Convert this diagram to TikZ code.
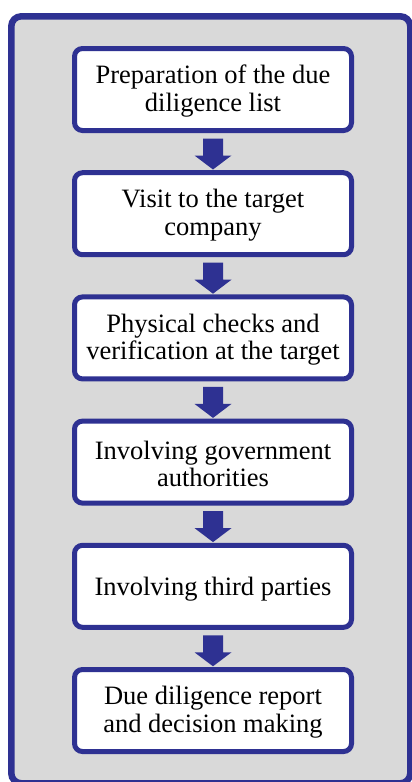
\documentclass[tikz,border=0pt]{standalone}
\usepackage{fontspec}
\setmainfont{Liberation Serif}
\usetikzlibrary{calc}
\definecolor{dblue}{RGB}{46,49,146}
\definecolor{lgrey}{RGB}{217,217,217}
\begin{document}
\begin{tikzpicture}[x=1pt,y=-1pt,
  stepbox/.style={draw=dblue, line width=5pt, fill=white, rounded corners=8pt,
    minimum width=277pt, minimum height=82pt, inner sep=0pt},
  steptext/.style={align=center, inner sep=0pt,
    font=\fontsize{26.5pt}{27.8pt}\selectfont},
  blockarrow/.style={fill=dblue}
]
\useasboundingbox (0,0) rectangle (412,782);
\begin{scope}
\clip (0,0) rectangle (412,782);
\draw[draw=dblue, fill=lgrey, line width=6.5pt, rounded corners=10pt] (11.3,16.3) rectangle (410.3,783.3);
\end{scope}
\node[stepbox] (b1) at (213,89.5) {};
\node[stepbox] (b2) at (213,213.7) {};
\node[stepbox] (b3) at (213,337.9) {};
\node[stepbox] (b4) at (213,462.1) {};
\node[stepbox] (b5) at (213,586.3) {};
\node[stepbox] (b6) at (213,710.5) {};
\node[steptext] (t1) at ([yshift=-1.8pt]b1.center) {Preparation of the due\\diligence list};
\node[steptext] (t2) at ([yshift=-1.8pt]b2.center) {Visit to the target\\company};
\node[steptext] (t3) at ([yshift=-1.8pt]b3.center) {Physical checks and\\verification at the target};
\node[steptext] (t4) at ([yshift=-1.8pt]b4.center) {Involving government\\authorities};
\node[steptext] (t5) at ([yshift=-2.5pt]b5.center) {Involving third parties};
\node[steptext] (t6) at ([yshift=-1.8pt]b6.center) {Due diligence report\\and decision making};
\foreach \a in {b1,b2,b3,b4,b5}{
  \fill[blockarrow] ([shift={(-10pt,-5.5pt)}]\a.south) -- ++(20pt,0pt) -- ++(0pt,-17pt)
    -- ++(8.5pt,0pt) -- ++(-18.5pt,-14pt) -- ++(-18.5pt,14pt) -- ++(8.5pt,0pt) -- cycle;
}
\end{tikzpicture}
\end{document}
